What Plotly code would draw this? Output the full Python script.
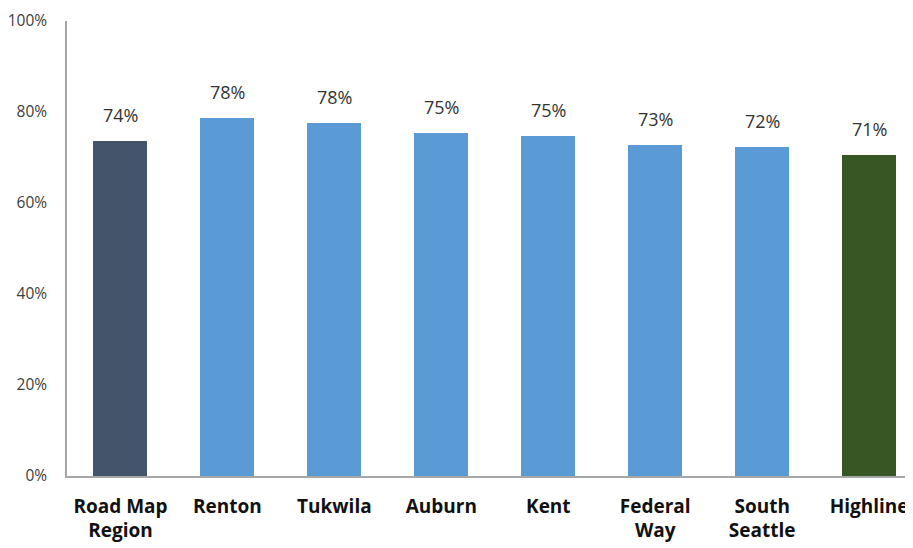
import plotly.graph_objects as go

# Data
categories = ["Road Map<br>Region", "Renton", "Tukwila", "Auburn", "Kent",
              "Federal<br>Way", "South<br>Seattle", "Highline"]
values = [73.6, 78.6, 77.5, 75.4, 74.8, 72.8, 72.3, 70.5]
labels = ["74%", "78%", "78%", "75%", "75%", "73%", "72%", "71%"]
y_ticks = [0, 20, 40, 60, 80, 100]
y_tick_text = ["0%", "20%", "40%", "60%", "80%", "100%"]

colors = ["#44546A"] + ["#5B9BD5"] * 6 + ["#375623"]

fig = go.Figure()
fig.add_trace(go.Bar(x=categories, y=values, marker=dict(color=colors, line=dict(width=0)),
                     width=0.505, showlegend=False, hoverinfo="skip"))

# data labels floating above the bars
for c, v, t in zip(categories, values, labels):
    fig.add_annotation(x=c, y=v, text=t, showarrow=False, yanchor="bottom", yshift=12,
                       font=dict(family="Open Sans", size=18, color="#333333"))

# page body adds an 8px offset, so the figure is a bit smaller than the window
fig.update_layout(
    width=905, height=540,
    margin=dict(l=59, r=0, t=13, b=72),
    plot_bgcolor="white", paper_bgcolor="white",
    bargap=0,
    xaxis=dict(range=[-0.5, 7.41], showline=True, linecolor="#A6A6A6", linewidth=1.5,
               ticks="", ticklabelstandoff=12, automargin=False,
               tickfont=dict(family="Open Sans", size=19, color="#111111", weight="bold")),
    yaxis=dict(range=[0, 100], tickvals=y_ticks, ticktext=y_tick_text, showgrid=False,
               showline=True, linecolor="#A6A6A6", linewidth=1.5, ticks="", zeroline=False,
               ticklabelstandoff=15, automargin=False, ticklabeloverflow="allow",
               tickfont=dict(family="Open Sans", size=15.5, color="#404040")),
)

fig.write_html("out.html")
